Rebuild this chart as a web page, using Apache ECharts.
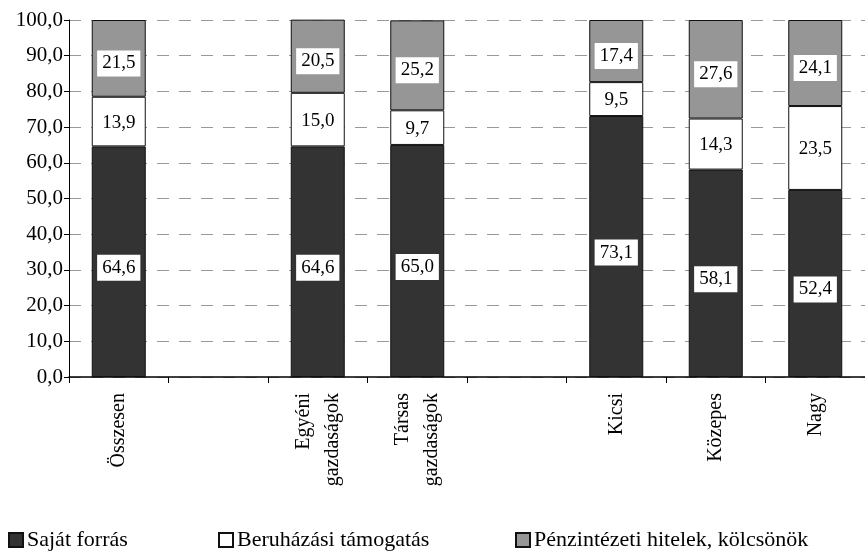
<!DOCTYPE html>
<html><head><meta charset="utf-8">
<script src="https://cdn.jsdelivr.net/npm/echarts@6/dist/echarts.min.js"></script>
<style>html,body{margin:0;padding:0;background:#fff}#c{width:865px;height:553px}</style>
</head><body><div id="c"></div>
<script>
const categories = ['Összesen', '', 'Egyéni\ngazdaságok', 'Társas\ngazdaságok', '', 'Kicsi', 'Közepes', 'Nagy'];
const sajat = [64.6, null, 64.6, 65.0, null, 73.1, 58.1, 52.4];
const beruhazasi = [13.9, null, 15.0, 9.7, null, 9.5, 14.3, 23.5];
const penzintezeti = [21.5, null, 20.5, 25.2, null, 17.4, 27.6, 24.1];
const seriesNames = ['Saját forrás', 'Beruházási támogatás', 'Pénzintézeti hitelek, kölcsönök'];
const colors = ['#333333', '#ffffff', '#969696'];
const yTicks = [0, 10, 20, 30, 40, 50, 60, 70, 80, 90, 100];

const FONT = '"Liberation Serif", "Times New Roman", serif';
const fmt = v => v.toFixed(1).replace('.', ',');
const chart = echarts.init(document.getElementById('c'));
const mk = (name, data, color, dy) => ({
  name, type: 'bar', stack: 'a', data: data.map(v => v == null ? '-' : v),
  barWidth: 54,
  itemStyle: { color, borderColor: '#111', borderWidth: 1 },
  label: {
    show: true, position: 'inside', offset: [0, dy], color: '#000', fontFamily: FONT, fontSize: 19,
    backgroundColor: '#fff', padding: [4, 5, 3, 5],
    formatter: p => fmt(p.value)
  }
});
const legendCommon = {
  bottom: -3, icon: 'rect', itemWidth: 14, itemHeight: 14, itemGap: 0,
  textStyle: { fontFamily: FONT, fontSize: 22, color: '#000', padding: [0, 0, 0, -1] },
  selectedMode: false
};
chart.setOption({
  animation: false,
  grid: { left: 69, top: 20, bottom: 176, right: -12 },
  legend: [
    Object.assign({ left: 3, data: [seriesNames[0]] }, legendCommon),
    Object.assign({ left: 213, data: [seriesNames[1]] }, legendCommon),
    Object.assign({ left: 510, data: [seriesNames[2]] }, legendCommon)
  ],
  xAxis: {
    type: 'category', data: categories,
    axisLine: { lineStyle: { color: '#000', width: 1.5 } },
    axisTick: { show: true, length: 6, lineStyle: { color: '#000' } },
    axisLabel: { rotate: 90, fontFamily: FONT, fontSize: 20, color: '#000', margin: 16, lineHeight: 29 }
  },
  yAxis: {
    type: 'value', min: 0, max: 100, interval: 10,
    axisLine: { show: true, lineStyle: { color: '#000', width: 1 } },
    axisTick: { show: true, length: 5, lineStyle: { color: '#000' } },
    axisLabel: { fontFamily: FONT, fontSize: 21, color: '#000', margin: 6, formatter: v => fmt(v) },
    splitLine: { show: true, lineStyle: { color: '#999', type: [12, 10], width: 1 } }
  },
  series: [
    mk(seriesNames[0], sajat, colors[0], 6),
    mk(seriesNames[1], beruhazasi, colors[1], 1),
    mk(seriesNames[2], penzintezeti, colors[2], 5)
  ]
});
</script></body></html>
